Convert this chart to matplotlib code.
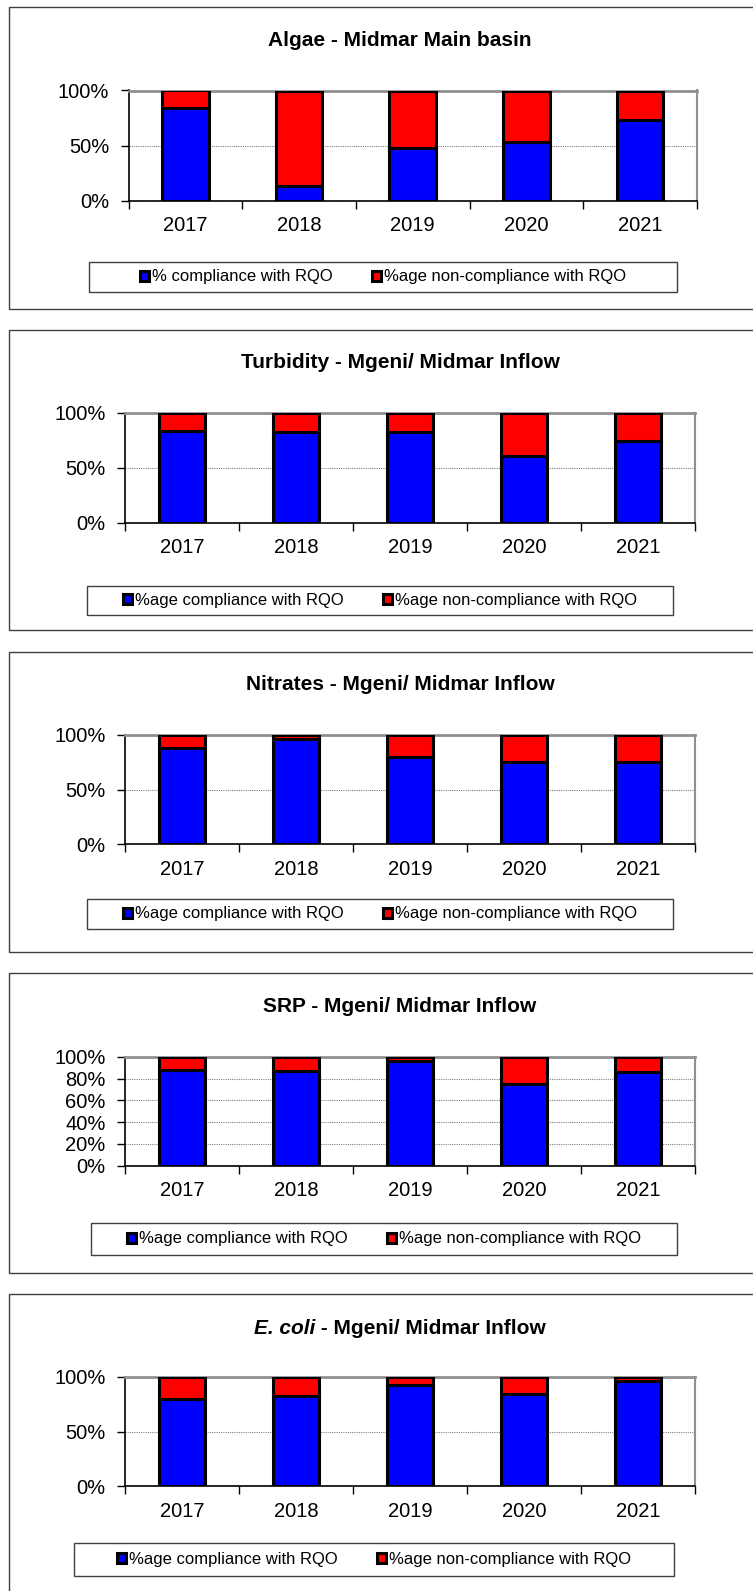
import numpy as np
import matplotlib.pyplot as plt
from matplotlib.patches import Rectangle
from matplotlib.ticker import PercentFormatter

plt.rcParams['font.family'] = ['Liberation Sans', 'DejaVu Sans']

years = ['2017', '2018', '2019', '2020', '2021']

# % compliance per panel (non-compliance is the rest up to 100)
algae = [84, 13, 48, 53, 73]
turbidity = [84, 83, 83, 61, 74]
nitrates = [88, 96, 80, 75, 75]
srp = [88, 87, 96, 75, 86]
ecoli = [80, 83, 93, 84, 96]

titles = [('', 'Algae - Midmar Main basin'),
          ('', 'Turbidity - Mgeni/ Midmar Inflow'),
          ('', 'Nitrates - Mgeni/ Midmar Inflow'),
          ('', 'SRP - Mgeni/ Midmar Inflow'),
          ('E. coli', ' - Mgeni/ Midmar Inflow')]
comply_labels = ['% compliance with RQO'] + ['%age compliance with RQO'] * 4
noncomply_label = '%age non-compliance with RQO'

W, H = 753, 1591
fig = plt.figure(figsize=(W / 100, H / 100), dpi=100)


def rect(l, t, r, b):
    # pixel box -> figure fraction [x, y, w, h]
    return [l / W, 1 - b / H, (r - l) / W, (b - t) / H]


# panel box, plot area, title y, legend box  (all in pixels)
panels = [
    dict(box=(8.5, 7.5, 800, 309), ax=(128.5, 90.5, 697, 200.5), ty=41,
         leg=(89, 262, 677, 292)),
    dict(box=(8.5, 329.5, 800, 629.5), ax=(125, 413, 695, 522.5), ty=363,
         leg=(87, 586, 673, 615)),
    dict(box=(8.5, 651.5, 800, 952), ax=(125, 735, 695, 844), ty=685,
         leg=(87, 899, 673, 929)),
    dict(box=(8.5, 972.5, 800, 1272.5), ax=(125, 1057, 695, 1165.5), ty=1007,
         leg=(91, 1223, 677, 1255)),
    dict(box=(8.5, 1294, 800, 1620), ax=(125, 1377, 695, 1486), ty=1328,
         leg=(74, 1543, 674, 1576)),
]
data = [algae, turbidity, nitrates, srp, ecoli]

renderer = fig.canvas.get_renderer()
x = np.arange(len(years))

for i, (p, comp) in enumerate(zip(panels, data)):
    comp = np.array(comp, dtype=float)
    non = 100 - comp

    bl, bt, br, bb = p['box']
    fig.patches.append(Rectangle((bl / W, 1 - bb / H), (br - bl) / W, (bb - bt) / H,
                                 transform=fig.transFigure, fill=False,
                                 edgecolor='#404040', linewidth=1))

    ax = fig.add_axes(rect(*p['ax']))
    b1 = ax.bar(x, comp, width=0.41, color='#0000FF', edgecolor='black',
                linewidth=2.2, zorder=3, label=comply_labels[i])
    b2 = ax.bar(x, non, width=0.41, bottom=comp, color='#FF0000',
                edgecolor='black', linewidth=2.2, zorder=3, label=noncomply_label)

    ax.set_xlim(-0.5, 4.5)
    ax.set_ylim(0, 100)
    if i == 3:
        ax.set_yticks([0, 20, 40, 60, 80, 100])
    else:
        ax.set_yticks([0, 50, 100])
    ax.yaxis.set_major_formatter(PercentFormatter(decimals=0))
    ax.yaxis.grid(True, color='#808080', linestyle=(0, (1, 1)), linewidth=0.8)
    ax.set_axisbelow(True)

    ax.set_xticks(np.arange(-0.5, 5, 1))
    ax.set_xticklabels([])
    ax.set_xticks(x, minor=True)
    ax.set_xticklabels(years, minor=True)
    ax.tick_params(axis='x', which='major', direction='out', length=5.5, width=1)
    ax.tick_params(axis='x', which='minor', length=0, pad=11.5, labelsize=14.5)
    ax.tick_params(axis='y', direction='out', length=5.5, width=1, pad=8.5,
                   labelsize=14.5)

    for s in ['left', 'bottom']:
        ax.spines[s].set_color('black')
        ax.spines[s].set_linewidth(1.2)
    ax.spines['top'].set_color('#909090')
    ax.spines['top'].set_linewidth(2)
    ax.spines['right'].set_color('#909090')
    ax.spines['right'].set_linewidth(1.5)

    # title (E. coli in italics)
    cx = 400 / W
    ty = 1 - p['ty'] / H
    ital, rest = titles[i]
    if ital:
        t1 = fig.text(0, ty, ital, fontsize=15, fontweight='bold',
                      style='italic', va='center', ha='left')
        t2 = fig.text(0, ty, rest, fontsize=15, fontweight='bold',
                      va='center', ha='left')
        w1 = t1.get_window_extent(renderer).width / W
        w2 = t2.get_window_extent(renderer).width / W
        x0 = cx - (w1 + w2) / 2
        t1.set_x(x0)
        t2.set_x(x0 + w1)
    else:
        fig.text(cx, ty, rest, fontsize=15, fontweight='bold',
                 va='center', ha='center')

    # legend with plain rectangular frame
    ll, lt, lr, lb = p['leg']
    fig.patches.append(Rectangle((ll / W, 1 - lb / H), (lr - ll) / W, (lb - lt) / H,
                                 transform=fig.transFigure, fill=False,
                                 edgecolor='#404040', linewidth=1))
    fig.legend(handles=[b1, b2], loc='center',
               bbox_to_anchor=((ll + lr) / 2 / W, 1 - (lt + lb) / 2 / H),
               ncol=2, frameon=False, fontsize=12, handlelength=0.55,
               handleheight=0.55, handletextpad=0.15, columnspacing=2.4)

fig.savefig('out.png', dpi=100)
